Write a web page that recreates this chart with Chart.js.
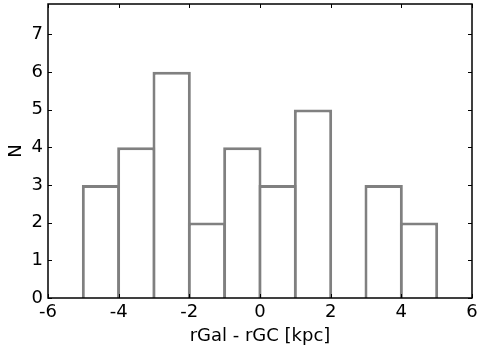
<!DOCTYPE html>
<html>
<head>
<meta charset="utf-8">
<script src="https://cdn.jsdelivr.net/npm/chart.js@4"></script>
<style>
  html, body { margin: 0; padding: 0; background: #fff; }
  #wrap { width: 479px; height: 350px; }
</style>
</head>
<body>
<div id="wrap"><canvas id="chart"></canvas></div>
<script>
// histogram of rGal - rGC, unit-width bins from -5 to 5
const binCenters = [-4.5, -3.5, -2.5, -1.5, -0.5, 0.5, 1.5, 2.5, 3.5, 4.5];
const counts = [3, 4, 6, 2, 4, 3, 5, 0, 3, 2];
const xTicks = [-6, -4, -2, 0, 2, 4, 6];
const yTicks = [0, 1, 2, 3, 4, 5, 6, 7];

const FONT = "'DejaVu Sans', sans-serif";

// inward ticks on all four sides plus the box, matplotlib style
const boxTicks = {
	id: "boxTicks",
	afterDraw(chart) {
		const ctx = chart.ctx;
		const a = chart.chartArea;
		const xs = chart.scales.x;
		const ys = chart.scales.y;
		ctx.save();
		ctx.strokeStyle = "#000";
		ctx.lineWidth = 1;
		ctx.beginPath();
		xTicks.forEach((v) => {
			const px = Math.round(xs.getPixelForValue(v)) + 0.5;
			ctx.moveTo(px, a.bottom);
			ctx.lineTo(px, a.bottom - 4);
			ctx.moveTo(px, a.top);
			ctx.lineTo(px, a.top + 4);
		});
		yTicks.forEach((v) => {
			const py = Math.round(ys.getPixelForValue(v)) + 0.5;
			ctx.moveTo(a.left, py);
			ctx.lineTo(a.left + 4, py);
			ctx.moveTo(a.right, py);
			ctx.lineTo(a.right - 4, py);
		});
		ctx.stroke();
		ctx.lineWidth = 1.5;
		ctx.strokeRect(a.left, a.top, a.right - a.left, a.bottom - a.top);
		ctx.restore();
	},
};

const ctx = document.getElementById("chart").getContext("2d");
const chart = new Chart(ctx, {
	type: "bar",
	data: {
		datasets: [
			{
				data: binCenters.map((c, i) => ({ x: c, y: counts[i] })),
				backgroundColor: "#ffffff",
				borderColor: "#808080",
				borderWidth: 3,
				barPercentage: 1.085,
				categoryPercentage: 1,
			},
		],
	},
	options: {
		responsive: true,
		maintainAspectRatio: false,
		animation: false,
		layout: { padding: { top: 4, right: 7, left: 0, bottom: 0 } },
		plugins: { legend: { display: false }, tooltip: { enabled: false } },
		scales: {
			x: {
				type: "linear",
				offset: false,
				min: -6,
				max: 6,
				afterBuildTicks: (s) => { s.ticks = xTicks.map((v) => ({ value: v })); },
				afterFit: (s) => {
					s.height = 52;
					s.paddingLeft = 0;
					s.paddingRight = 0;
				},
				grid: { display: false, drawTicks: false, offset: false },
				border: { display: false },
				ticks: { color: "#000", font: { family: FONT, size: 18 }, padding: 4, maxRotation: 0 },
				title: {
					display: true,
					text: "rGal - rGC [kpc]",
					color: "#000",
					font: { family: FONT, size: 18 },
					padding: { top: 0, bottom: 3 },
				},
			},
			y: {
				min: 0,
				max: 7.8,
				afterBuildTicks: (s) => { s.ticks = yTicks.map((v) => ({ value: v })); },
				afterFit: (s) => {
					s.width = 48;
					s.paddingTop = 0;
					s.paddingBottom = 0;
				},
				grid: { display: false, drawTicks: false },
				border: { display: false },
				ticks: { color: "#000", font: { family: FONT, size: 18 }, padding: 5 },
				title: {
					display: true,
					text: "N",
					color: "#000",
					font: { family: FONT, size: 18 },
					padding: { top: 6, bottom: 0 },
				},
			},
		},
	},
	plugins: [boxTicks],
});
</script>
</body>
</html>
